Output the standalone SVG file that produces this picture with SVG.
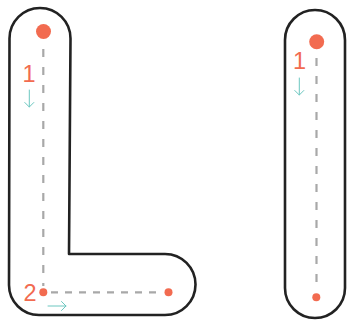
<svg xmlns="http://www.w3.org/2000/svg" width="353" height="320" viewBox="0 0 353 320">
<style>
.outline{fill:#fff;stroke:#222;stroke-width:2.6;stroke-linejoin:round}
.dashv{stroke:#a8a8a8;stroke-width:2.2;stroke-dasharray:8 10;fill:none}
.dashh{stroke:#a8a8a8;stroke-width:2.2;stroke-dasharray:7 7;fill:none}
.dot{fill:#f26b50}
.num{font-family:"Liberation Sans",Arial,sans-serif;font-size:23.5px;fill:#f26b50;text-anchor:middle}
.arr{stroke:#6cc7c0;stroke-width:1;fill:none;stroke-linecap:round}
</style>
<rect width="353" height="320" fill="#fff"/>
<g id="letter-L">
<path class="outline" d="M9.5 38.5 A30.5 30.5 0 0 1 70.5 38.5 L69 254 L165 254 A30.5 30.5 0 0 1 165 315 L39 315 A30 30 0 0 1 9 285 Z"/>
</g>
<g id="letter-l">
<path class="outline" d="M285 40 A30 30 0 0 1 345 40 L345 288 A30 30 0 0 1 285 288 Z"/>
</g>
<g id="connectors">
<line class="dashv" x1="43.3" y1="49" x2="43.3" y2="286"/>
<line class="dashh" x1="51" y1="292.3" x2="162" y2="292.3"/>
<line class="dashv" x1="316.5" y1="58" x2="316.5" y2="291"/>
<path class="arr" d="M29.3 90 V107 M24.8 102.5 L29.3 107 L33.8 102.5"/>
<path class="arr" d="M48 306 H66 M61.5 301.5 L66 306 L61.5 310.5"/>
<path class="arr" d="M299.3 78 V95 M294.8 90.5 L299.3 95 L303.8 90.5"/>
</g>
<g id="markers">
<circle class="dot" cx="43.5" cy="31.5" r="7.5"/>
<circle class="dot" cx="43.3" cy="292.3" r="4"/>
<circle class="dot" cx="168.5" cy="292.3" r="4"/>
<circle class="dot" cx="316.7" cy="41.7" r="7.5"/>
<circle class="dot" cx="316.3" cy="297.3" r="4"/>
</g>
<g id="labels">
<text class="num" x="29" y="82">1</text>
<text class="num" x="30" y="300.5">2</text>
<text class="num" x="299.5" y="68.5">1</text>
</g>
</svg>
